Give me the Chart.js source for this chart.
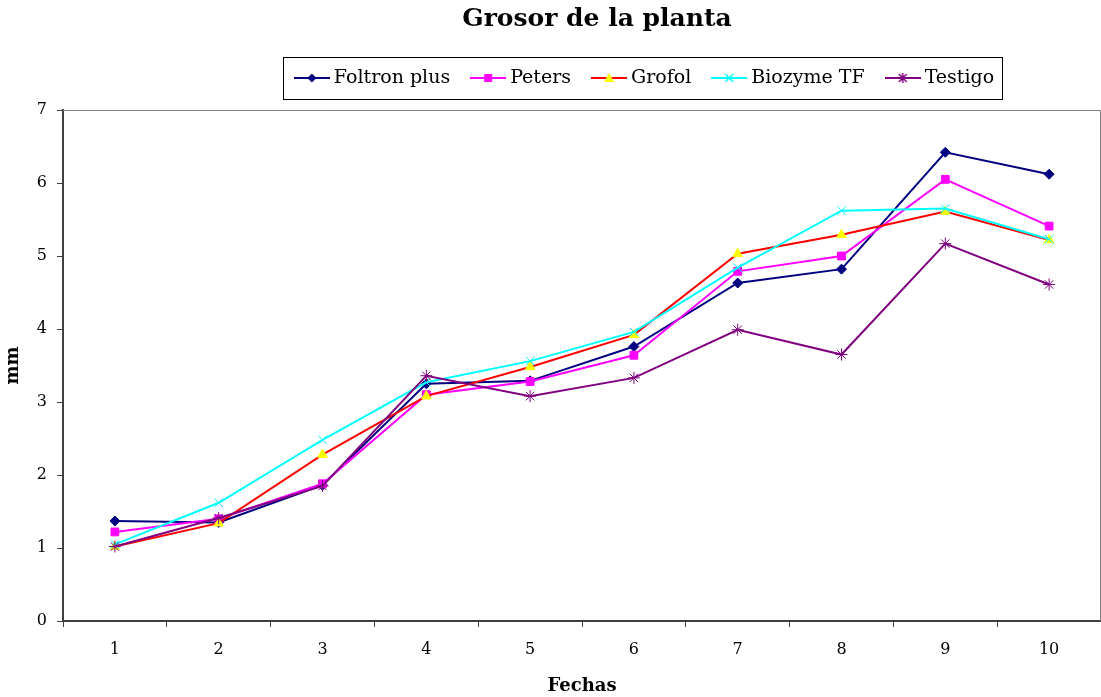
<!DOCTYPE html>
<html>
<head>
<meta charset="utf-8">
<title>Grosor de la planta</title>
<script src="https://cdn.jsdelivr.net/npm/chart.js@4/dist/chart.umd.min.js"></script>
<style>
    html, body { margin: 0; padding: 0; background: #fff; }
    #contenedor { width: 1101px; height: 697px; }
</style>
</head>
<body>
<div id="contenedor"><canvas id="grosorChart"></canvas></div>
<script>
// Datos (mm por fecha)
const fechas = ['1', '2', '3', '4', '5', '6', '7', '8', '9', '10'];
const foltronPlus = [1.37, 1.35, 1.86, 3.25, 3.29, 3.76, 4.63, 4.82, 6.42, 6.12];
const peters      = [1.22, 1.40, 1.88, 3.10, 3.28, 3.64, 4.79, 5.00, 6.05, 5.41];
const grofol      = [1.02, 1.34, 2.28, 3.08, 3.48, 3.92, 5.03, 5.29, 5.61, 5.22];
const biozymeTF   = [1.05, 1.62, 2.48, 3.27, 3.56, 3.96, 4.84, 5.62, 5.65, 5.23];
const testigo     = [1.02, 1.41, 1.85, 3.36, 3.08, 3.33, 3.99, 3.65, 5.17, 4.61];
const yMin = 0, yMax = 7, yPaso = 1;

const fuenteSerif = "'DejaVu Serif', 'Liberation Serif', serif";

// Icono de leyenda: linea con marcador
function iconoLeyenda(linea, relleno, forma) {
    const c = document.createElement('canvas');
    c.width = 36; c.height = 14;
    const g = c.getContext('2d');
    g.strokeStyle = linea; g.lineWidth = 2;
    g.beginPath(); g.moveTo(0, 7); g.lineTo(36, 7); g.stroke();
    g.fillStyle = relleno; g.strokeStyle = relleno; g.lineWidth = 1.5;
    const x = 18, y = 7;
    g.beginPath();
    if (forma === 'rectRot') {
        g.moveTo(x, y - 4.5); g.lineTo(x + 4.5, y); g.lineTo(x, y + 4.5); g.lineTo(x - 4.5, y); g.closePath(); g.fill();
    } else if (forma === 'rect') {
        g.rect(x - 4, y - 4, 8, 8); g.fill();
    } else if (forma === 'triangle') {
        g.moveTo(x, y - 5); g.lineTo(x + 5, y + 4); g.lineTo(x - 5, y + 4); g.closePath(); g.fill();
    } else if (forma === 'crossRot') {
        g.moveTo(x - 4, y - 4); g.lineTo(x + 4, y + 4); g.moveTo(x + 4, y - 4); g.lineTo(x - 4, y + 4); g.stroke();
    } else {
        g.moveTo(x - 4, y - 4); g.lineTo(x + 4, y + 4); g.moveTo(x + 4, y - 4); g.lineTo(x - 4, y + 4);
        g.moveTo(x, y - 5); g.lineTo(x, y + 5); g.stroke();
    }
    return c;
}

function serie(nombre, datos, linea, relleno, forma, radio, orden) {
    return {
        label: nombre,
        data: datos,
        borderColor: linea,
        backgroundColor: relleno,
        borderWidth: 2,
        pointStyle: forma,
        pointRadius: radio,
        pointHoverRadius: radio,
        pointBackgroundColor: relleno,
        pointBorderColor: relleno,
        pointBorderWidth: 1,
        tension: 0,
        order: orden,
        icono: iconoLeyenda(linea, relleno, forma)
    };
}

const LEYENDA_PAD = 25.5;
const LEYENDA_CENTRO = 642.5;
const TITULO_CENTRO = 597;

// Ajustes de posicion, marco de leyenda y borde del area de trazado
const marcoPlugin = {
    id: 'marco',
    afterLayout(chart) {
        const t = chart.titleBlock;
        const lg = chart.legend;
        // el relleno superior del eje empuja titulo y leyenda hacia abajo; se devuelven arriba
        const dy = t ? t.top : 0;
        if (t) {
            const d = TITULO_CENTRO - (t.left + t.right) / 2;
            t.left += d; t.right += d;
            t.top -= dy; t.bottom -= dy;
        }
        if (lg && lg.lineWidths) {
            const lw = lg.lineWidths[0];
            const x0 = (lg.left + LEYENDA_PAD + lg.right - lw) / 2;
            const centro = x0 + (lw - LEYENDA_PAD - 8.5) / 2;
            const d = LEYENDA_CENTRO - centro;
            lg.left += d; lg.right += d;
            lg.top -= dy; lg.bottom -= dy;
        }
    },
    beforeDatasetsDraw(chart) {
        const a = chart.chartArea;
        const ctx = chart.ctx;
        ctx.save();
        ctx.strokeStyle = '#808080';
        ctx.lineWidth = 1;
        ctx.beginPath();
        ctx.moveTo(a.left, a.top + 0.5);
        ctx.lineTo(a.right - 0.5, a.top + 0.5);
        ctx.lineTo(a.right - 0.5, a.bottom);
        ctx.stroke();
        ctx.restore();
    },
    afterDraw(chart) {
        const lg = chart.legend;
        if (!lg || !lg.lineWidths) return;
        const lw = lg.lineWidths[0];
        const x0 = (lg.left + LEYENDA_PAD + lg.right - lw) / 2;
        const cy = lg.top + LEYENDA_PAD + 19 / 2;
        const izq = Math.round(x0 - 16.5) + 0.5;
        const der = Math.round(x0 + lw - LEYENDA_PAD + 8) + 0.5;
        const ctx = chart.ctx;
        ctx.save();
        ctx.strokeStyle = '#000';
        ctx.lineWidth = 1;
        ctx.strokeRect(izq, Math.round(cy - 21) + 0.5, der - izq, 42);
        ctx.restore();
    }
};

const ctx = document.getElementById('grosorChart').getContext('2d');
const grosorChart = new Chart(ctx, {
    type: 'line',
    data: {
        labels: fechas,
        datasets: [
            serie('Foltron plus', foltronPlus, '#000080', '#000080', 'rectRot', 5, 4),
            serie('Peters', peters, '#FF00FF', '#FF00FF', 'rect', 5.5, 3),
            serie('Grofol', grofol, '#FF0000', '#FFFF00', 'triangle', 5.5, 2),
            serie('Biozyme TF', biozymeTF, '#00FFFF', '#00FFFF', 'crossRot', 6, 1),
            serie('Testigo', testigo, '#800080', '#800080', 'star', 6, 0)
        ]
    },
    options: {
        responsive: true,
        maintainAspectRatio: false,
        animation: false,
        layout: { autoPadding: false, padding: { left: 0, right: 0, top: 0, bottom: 0 } },
        plugins: {
            title: {
                display: true,
                text: 'Grosor de la planta',
                color: '#000',
                font: { family: fuenteSerif, size: 25, weight: 'bold', lineHeight: 1.2 },
                padding: { top: 4, bottom: 9 }
            },
            legend: {
                display: true,
                position: 'top',
                labels: {
                    usePointStyle: true,
                    pointStyleWidth: 25,
                    padding: LEYENDA_PAD,
                    color: '#000',
                    font: { family: fuenteSerif, size: 19 },
                    generateLabels: function(chart) {
                        return chart.data.datasets.map(function(ds, i) {
                            return {
                                text: ds.label,
                                pointStyle: ds.icono,
                                fillStyle: ds.borderColor,
                                strokeStyle: 'transparent',
                                lineWidth: 0,
                                hidden: !chart.isDatasetVisible(i),
                                datasetIndex: i
                            };
                        });
                    }
                }
            },
            tooltip: { enabled: false }
        },
        scales: {
            x: {
                type: 'category',
                offset: true,
                grid: {
                    display: true,
                    offset: true,
                    drawOnChartArea: false,
                    drawTicks: true,
                    tickLength: 6,
                    color: '#404040',
                    lineWidth: 1
                },
                border: { display: true, color: '#404040', width: 2 },
                ticks: {
                    color: '#000',
                    padding: 13,
                    maxRotation: 0,
                    font: { family: fuenteSerif, size: 16 }
                },
                title: {
                    display: true,
                    text: 'Fechas',
                    color: '#000',
                    font: { family: fuenteSerif, size: 18, weight: 'bold', lineHeight: 1.2 },
                    padding: { top: 2, bottom: 0 }
                },
                afterFit: function(scale) {
                    scale.height = 76;
                    scale.paddingLeft = 0;
                    scale.paddingRight = 0;
                }
            },
            y: {
                min: yMin,
                max: yMax,
                ticks: {
                    stepSize: yPaso,
                    color: '#000',
                    padding: 10,
                    font: { family: fuenteSerif, size: 16 }
                },
                grid: {
                    display: true,
                    drawOnChartArea: false,
                    drawTicks: true,
                    tickLength: 6,
                    color: '#404040',
                    lineWidth: 1
                },
                border: { display: true, color: '#404040', width: 2 },
                title: {
                    display: true,
                    text: 'mm',
                    color: '#000',
                    font: { family: fuenteSerif, size: 18, weight: 'bold', lineHeight: 1.2 },
                    padding: { top: 3, bottom: 0 }
                },
                afterFit: function(scale) {
                    scale.width = 63;
                    scale.paddingTop = 110;
                    scale.paddingBottom = 0;
                }
            }
        }
    },
    plugins: [marcoPlugin]
});
</script>
</body>
</html>
